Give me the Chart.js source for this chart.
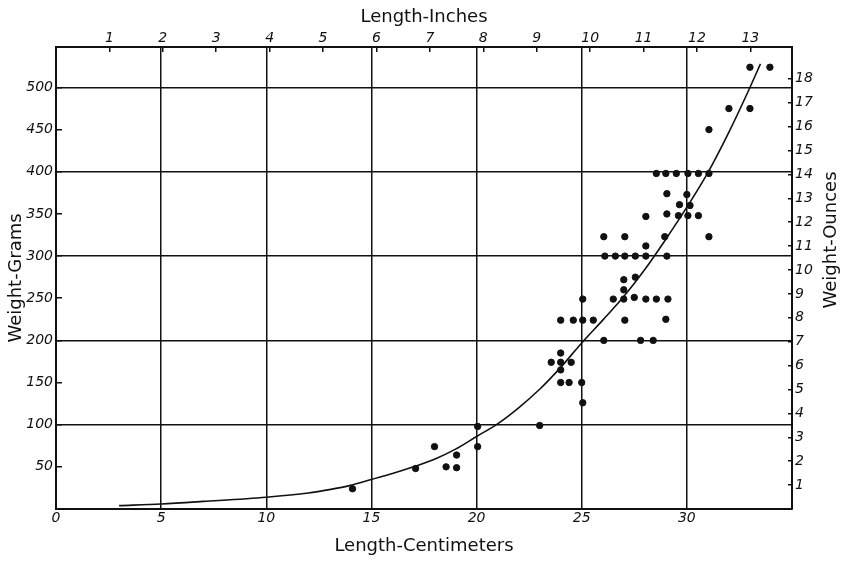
<html lang="en">
<head>
  <meta charset="UTF-8">
  <title>Length and Weight</title>
  <script src="https://cdn.jsdelivr.net/npm/chart.js"></script>
  <style>
    body, html {
      margin: 0;
      padding: 0;
      background-color: #ffffff;
    }
    #myChart {
      display: block;
    }
  </style>
</head>
<body>
  <canvas id="myChart" width="845" height="561"></canvas>

  <script>
    // measured fish: length in cm, weight in grams
    const fishCm = [14.1, 17.1, 18.0, 18.55, 19.05, 19.05, 20.05, 20.05, 23.0,
      24.0, 24.4, 25.0, 25.05, 24.0, 23.55, 24.0, 24.5, 24.0,
      24.0, 24.6, 25.05, 25.55, 27.05, 29.0, 26.05, 27.8, 28.4,
      25.05, 26.5, 27.0, 27.5, 28.05, 28.55, 29.1, 27.0, 27.0, 27.55,
      26.1, 26.6, 27.05, 27.55, 28.05, 29.05, 28.05,
      26.05, 27.05, 28.95, 31.05, 28.05, 29.05, 29.6, 30.05, 30.55,
      29.65, 30.15, 29.05, 30.0,
      28.55, 29.0, 29.5, 30.05, 30.55, 31.05, 31.05, 32.0, 33.0, 33.0, 33.95];
    const fishGrams = [24, 48, 74, 50, 49, 64, 74, 98, 99,
      150, 150, 150, 126, 165, 174, 174, 174, 185,
      224, 224, 224, 224, 224, 225, 200, 200, 200,
      249, 249, 249, 251, 249, 249, 249, 260, 272, 275,
      300, 300, 300, 300, 300, 300, 312,
      323, 323, 323, 323, 347, 350, 348, 348, 348,
      361, 360, 374, 373,
      398, 398, 398, 398, 398, 398, 450, 475, 475, 524, 524];

    // hand drawn curve through the points
    const curveCm = [3, 5, 7, 10, 12, 13, 14, 15, 16, 17, 18, 19, 20, 21, 22, 23, 24, 25, 26, 27, 28, 29, 30, 31, 32, 33, 33.5];
    const curveGrams = [4, 6, 9, 14, 19, 23, 28, 35, 42, 50, 59, 71, 86, 101, 120, 142, 168, 197, 224, 252, 284, 320, 358, 399, 447, 500, 528];

    const cmTicks = [0, 5, 10, 15, 20, 25, 30];
    const inchTicks = [1, 2, 3, 4, 5, 6, 7, 8, 9, 10, 11, 12, 13];
    const gramTicks = [50, 100, 150, 200, 250, 300, 350, 400, 450, 500];
    const ounceTicks = [1, 2, 3, 4, 5, 6, 7, 8, 9, 10, 11, 12, 13, 14, 15, 16, 17, 18];

    const cmMax = 35;
    const gramMax = 548;
    const CM_PER_INCH = 2.54;
    const GRAMS_PER_OZ = 28.3495;

    const ink = '#111111';
    const none = 'rgba(0,0,0,0)';
    const tickFont = { family: 'DejaVu Sans', size: 14, style: 'italic' };
    const titleFont = { family: 'DejaVu Sans', size: 18 };

    const fixTicks = (values) => (scale) => {
      scale.ticks = values.map(v => ({ value: v }));
    };

    // right hand title reads bottom to top
    const ounceTitle = {
      id: 'ounceTitle',
      afterDraw(chart) {
        const c = chart.ctx;
        c.save();
        c.translate(831, 240);
        c.rotate(-Math.PI / 2);
        c.fillStyle = ink;
        c.font = '18px "DejaVu Sans"';
        c.textAlign = 'center';
        c.textBaseline = 'middle';
        c.fillText('Weight-Ounces', 0, 0);
        c.restore();
      }
    };

    const ctx = document.getElementById('myChart').getContext('2d');
    const myChart = new Chart(ctx, {
      type: 'scatter',
      data: {
        datasets: [
          {
            label: 'Fish',
            data: fishCm.map((x, i) => ({ x: x, y: fishGrams[i] })),
            backgroundColor: ink,
            borderColor: ink,
            pointRadius: 3.2,
            showLine: false
          },
          {
            label: 'Curve',
            data: curveCm.map((x, i) => ({ x: x, y: curveGrams[i] })),
            borderColor: ink,
            borderWidth: 1.6,
            pointRadius: 0,
            showLine: true,
            cubicInterpolationMode: 'monotone'
          }
        ]
      },
      options: {
        responsive: false,
        animation: false,
        layout: { padding: 0 },
        plugins: {
          legend: { display: false },
          tooltip: { enabled: false }
        },
        scales: {
          x: {
            type: 'linear',
            position: 'bottom',
            min: 0,
            max: cmMax,
            afterBuildTicks: fixTicks(cmTicks),
            afterFit: (s) => { s.height = 52; },
            ticks: { color: ink, font: tickFont, padding: 1, autoSkip: false, maxRotation: 0 },
            grid: { color: ink, lineWidth: 1.5, drawTicks: false },
            border: { color: ink, width: 2 },
            title: {
              display: true,
              text: 'Length-Centimeters',
              color: ink,
              font: titleFont,
              padding: { top: 0, bottom: 4 }
            }
          },
          x2: {
            type: 'linear',
            position: 'top',
            min: 0,
            max: cmMax / CM_PER_INCH,
            afterBuildTicks: fixTicks(inchTicks),
            afterFit: (s) => { s.height = 47; },
            ticks: { color: ink, font: tickFont, padding: 5, autoSkip: false, maxRotation: 0 },
            grid: { drawOnChartArea: false, color: ink, tickColor: ink, tickLength: -5, lineWidth: 1.5 },
            border: { color: ink, width: 2 },
            title: {
              display: true,
              text: 'Length-Inches',
              color: ink,
              font: titleFont,
              padding: { top: 7, bottom: 0 }
            }
          },
          y: {
            type: 'linear',
            position: 'left',
            min: 0,
            max: gramMax,
            afterBuildTicks: fixTicks(gramTicks),
            afterFit: (s) => { s.width = 56; },
            ticks: { color: ink, font: tickFont, padding: 9, autoSkip: false },
            grid: {
              color: (c) => (c.tick && c.tick.value % 100 === 0) ? ink : none,
              tickColor: ink,
              tickLength: -6,
              lineWidth: 1.5
            },
            border: { color: ink, width: 2 },
            title: {
              display: true,
              text: 'Weight-Grams',
              color: ink,
              font: titleFont,
              padding: { top: 6, bottom: 0 }
            }
          },
          y2: {
            type: 'linear',
            position: 'right',
            min: 0,
            max: gramMax / GRAMS_PER_OZ,
            afterBuildTicks: fixTicks(ounceTicks),
            afterFit: (s) => { s.width = 53; },
            ticks: { color: ink, font: tickFont, padding: 7, autoSkip: false },
            grid: { drawOnChartArea: false, color: ink, tickColor: ink, tickLength: -4, lineWidth: 1.5 },
            border: { color: ink, width: 2 },
            title: { display: false }
          }
        }
      },
      plugins: [ounceTitle]
    });
  </script>
</body>
</html>
